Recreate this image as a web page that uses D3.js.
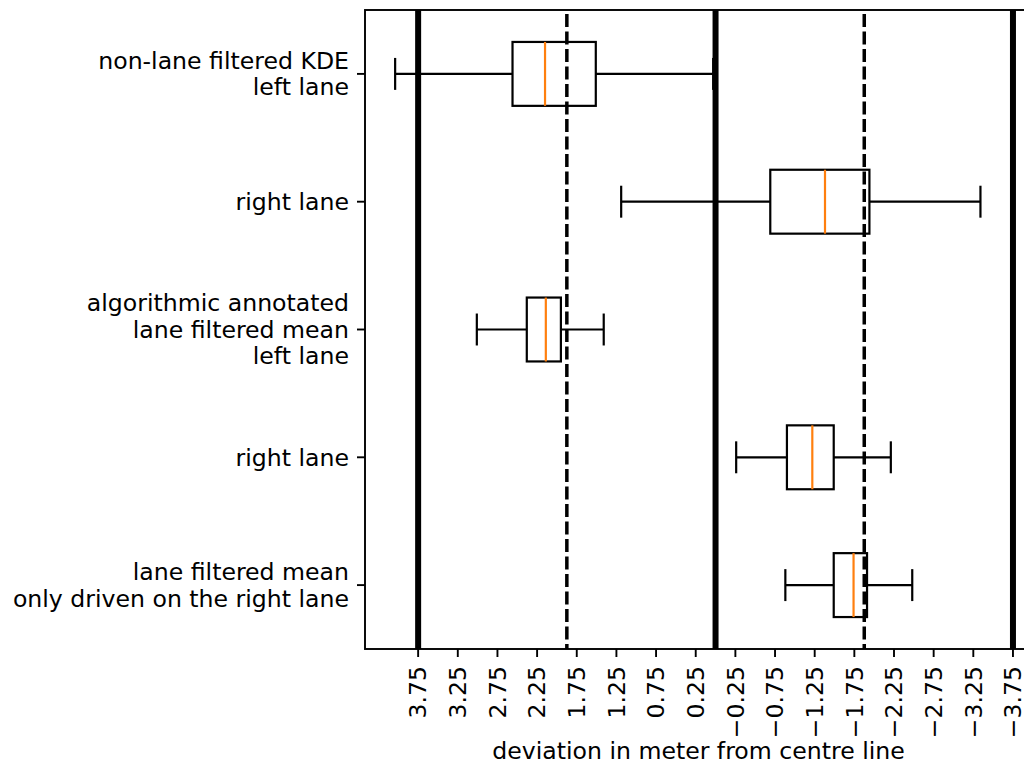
<!DOCTYPE html>
<html>
<head>
<meta charset="utf-8">
<script src="https://cdn.jsdelivr.net/npm/d3@7"></script>
<style>
  body { margin: 0; background: #fff; overflow: hidden; }
  text { font-family: "DejaVu Sans", sans-serif; fill: #000; }
</style>
</head>
<body>
<script>
// box categories, top to bottom
var labels = [
  ["non-lane filtered KDE", "left lane"],
  ["right lane"],
  ["algorithmic annotated", "lane filtered mean", "left lane"],
  ["right lane"],
  ["lane filtered mean", "only driven on the right lane"]
];
// box statistics (metres)
var whiskerHi = [4.04, 1.19, 3.01, -0.26, -0.88];
var q3 = [2.56, -0.69, 2.38, -0.90, -1.49];
var median = [2.15, -1.38, 2.14, -1.22, -1.74];
var q1 = [1.51, -1.94, 1.95, -1.49, -1.91];
var whiskerLo = [0.03, -3.34, 1.41, -2.21, -2.48];
// reference lines
var solidLines = [3.75, 0, -3.75];
var dashedLines = [1.875, -1.875];
var tickValues = d3.range(3.75, -3.76, -0.5);

var W = 1024, H = 771;
var mLeft = 365, mRight = 1032, mTop = 10, mBottom = 649;
var fs = "23.6px";

var svg = d3.select("body").append("svg")
  .attr("width", W)
  .attr("height", H);

var x = d3.scaleLinear().domain([4.42, -3.99]).range([mLeft, mRight]);
var y = d3.scaleLinear().domain([0.5, 5.5]).range([mTop, mBottom]);
var bh = y(0.25) - y(0);   // half box width (0.5 wide)
var cap = bh / 2;

var plot = svg.append("g");

var boxes = plot.selectAll("g.box")
  .data(labels.map(function(d, i) { return i; }))
  .enter().append("g")
  .attr("class", "box");

// whiskers
boxes.append("line")
  .attr("x1", function(i) { return x(whiskerHi[i]); })
  .attr("x2", function(i) { return x(q3[i]); })
  .attr("y1", function(i) { return y(i + 1); })
  .attr("y2", function(i) { return y(i + 1); });
boxes.append("line")
  .attr("x1", function(i) { return x(q1[i]); })
  .attr("x2", function(i) { return x(whiskerLo[i]); })
  .attr("y1", function(i) { return y(i + 1); })
  .attr("y2", function(i) { return y(i + 1); });
// caps
boxes.append("line")
  .attr("x1", function(i) { return x(whiskerHi[i]); })
  .attr("x2", function(i) { return x(whiskerHi[i]); })
  .attr("y1", function(i) { return y(i + 1) - cap; })
  .attr("y2", function(i) { return y(i + 1) + cap; });
boxes.append("line")
  .attr("x1", function(i) { return x(whiskerLo[i]); })
  .attr("x2", function(i) { return x(whiskerLo[i]); })
  .attr("y1", function(i) { return y(i + 1) - cap; })
  .attr("y2", function(i) { return y(i + 1) + cap; });
// box
boxes.append("rect")
  .attr("x", function(i) { return x(q3[i]); })
  .attr("width", function(i) { return x(q1[i]) - x(q3[i]); })
  .attr("y", function(i) { return y(i + 1) - bh; })
  .attr("height", 2 * bh)
  .attr("fill", "none");
boxes.selectAll("line, rect")
  .attr("stroke", "#000")
  .attr("stroke-width", 2.2);
// median
boxes.append("line")
  .attr("x1", function(i) { return x(median[i]); })
  .attr("x2", function(i) { return x(median[i]); })
  .attr("y1", function(i) { return y(i + 1) - bh; })
  .attr("y2", function(i) { return y(i + 1) + bh; })
  .attr("stroke", "#ff7f0e")
  .attr("stroke-width", 2.2);

// reference lines on top
plot.selectAll("line.solid")
  .data(solidLines)
  .enter().append("line")
  .attr("class", "solid")
  .attr("x1", function(d) { return x(d); })
  .attr("x2", function(d) { return x(d); })
  .attr("y1", mTop)
  .attr("y2", mBottom)
  .attr("stroke", "#000")
  .attr("stroke-width", 6);
plot.selectAll("line.dashed")
  .data(dashedLines)
  .enter().append("line")
  .attr("class", "dashed")
  .attr("x1", function(d) { return x(d); })
  .attr("x2", function(d) { return x(d); })
  .attr("y1", mTop + 4)
  .attr("y2", mBottom)
  .attr("stroke", "#000")
  .attr("stroke-width", 3.5)
  .attr("stroke-dasharray", "13,4.5");

// spines
svg.append("rect")
  .attr("x", mLeft)
  .attr("y", mTop)
  .attr("width", mRight - mLeft)
  .attr("height", mBottom - mTop)
  .attr("fill", "none")
  .attr("stroke", "#000")
  .attr("stroke-width", 1.9);

// x axis
var fmt = function(d) { return d3.format(".2f")(d).replace("-", "\u2212"); };
var xt = svg.append("g").selectAll("g")
  .data(tickValues)
  .enter().append("g")
  .attr("transform", function(d) { return "translate(" + x(d) + ",0)"; });
xt.append("line")
  .attr("y1", mBottom)
  .attr("y2", mBottom + 8)
  .attr("stroke", "#000")
  .attr("stroke-width", 1.9);
xt.append("text")
  .attr("transform", "translate(0," + (mBottom + 17) + ") rotate(-90)")
  .attr("text-anchor", "end")
  .attr("dy", "0.35em")
  .style("font-size", fs)
  .text(fmt);

svg.append("text")
  .attr("x", (mLeft + mRight) / 2)
  .attr("y", 759)
  .attr("text-anchor", "middle")
  .style("font-size", fs)
  .text("deviation in meter from centre line");

// y axis
var yt = svg.append("g").selectAll("g")
  .data(labels)
  .enter().append("g")
  .attr("transform", function(d, i) { return "translate(0," + y(i + 1) + ")"; });
yt.append("line")
  .attr("x1", mLeft - 8)
  .attr("x2", mLeft)
  .attr("stroke", "#000")
  .attr("stroke-width", 1.9);
yt.each(function(d) {
  var t = d3.select(this).append("text")
    .attr("text-anchor", "end")
    .style("font-size", fs);
  var n = d.length;
  d.forEach(function(s, k) {
    t.append("tspan")
      .attr("x", mLeft - 16)
      .attr("y", (k - (n - 1) / 2) * 26.5)
      .attr("dy", "0.35em")
      .text(s);
  });
});
</script>
</body>
</html>
